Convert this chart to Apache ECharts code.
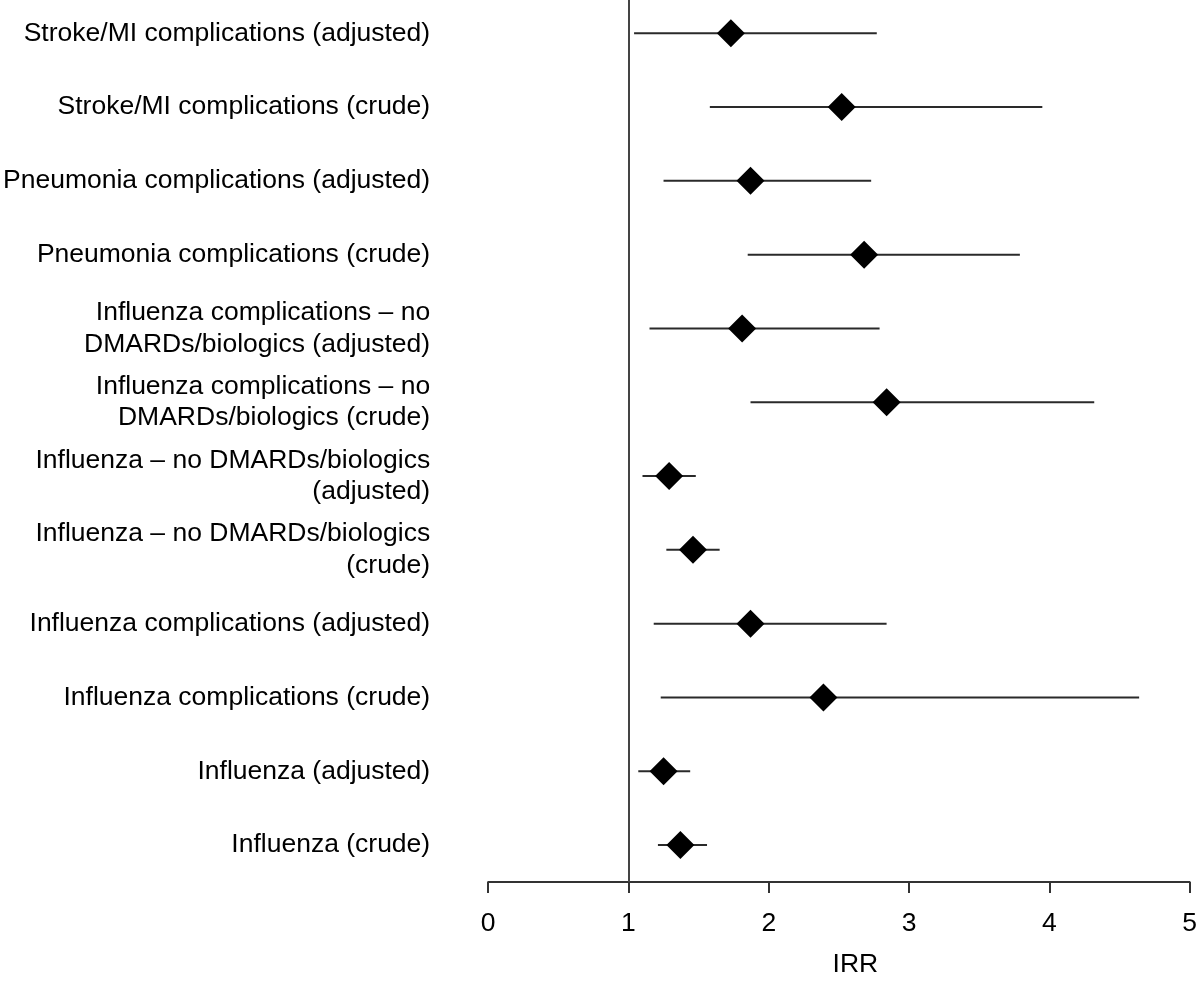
<!DOCTYPE html>
<html>
<head>
<meta charset="utf-8">
<script src="https://cdn.jsdelivr.net/npm/echarts@6/dist/echarts.min.js"></script>
<style>
html,body{margin:0;padding:0;background:#fff;}
#chart{width:1200px;height:983px;}
</style>
</head>
<body>
<div id="chart"></div>
<script>
// Categories, top to bottom
const categories = [
  "Stroke/MI complications (adjusted)",
  "Stroke/MI complications (crude)",
  "Pneumonia complications (adjusted)",
  "Pneumonia complications (crude)",
  "Influenza complications – no\nDMARDs/biologics (adjusted)",
  "Influenza complications – no\nDMARDs/biologics (crude)",
  "Influenza – no DMARDs/biologics\n(adjusted)",
  "Influenza – no DMARDs/biologics\n(crude)",
  "Influenza complications (adjusted)",
  "Influenza complications (crude)",
  "Influenza (adjusted)",
  "Influenza (crude)"
];
// Incidence rate ratio point estimates
const irr   = [1.73, 2.52, 1.87, 2.68, 1.81, 2.84, 1.29, 1.46, 1.87, 2.39, 1.25, 1.37];
// Lower and upper confidence limits
const lower = [1.04, 1.58, 1.25, 1.85, 1.15, 1.87, 1.10, 1.27, 1.18, 1.23, 1.07, 1.21];
const upper = [2.77, 3.95, 2.73, 3.79, 2.79, 4.32, 1.48, 1.65, 2.84, 4.64, 1.44, 1.56];
// X axis
const xTicks = [0, 1, 2, 3, 4, 5];
const xTitle = "IRR";
const refValue = 1;

const FONT = '"Liberation Sans", Arial, Helvetica, sans-serif';
const rowIdx = categories.map((c, i) => i);

const ciData = rowIdx.map(i => [lower[i], upper[i], i]);
const ptData = rowIdx.map(i => [irr[i], i]);

const chart = echarts.init(document.getElementById('chart'), null, {renderer: 'canvas'});
chart.setOption({
  animation: false,
  backgroundColor: '#ffffff',
  grid: {left: 486.5, right: 9.5, top: 0, bottom: 94, containLabel: false},
  xAxis: {
    type: 'value',
    min: xTicks[0],
    max: xTicks[xTicks.length - 1],
    interval: 1,
    name: xTitle,
    nameLocation: 'middle',
    nameGap: 69,
    nameTextStyle: {fontFamily: FONT, fontSize: 26.5, color: '#000', padding: [0, 0, 0, 33]},
    axisLine: {show: true, onZero: false, lineStyle: {color: '#333', width: 2}},
    axisTick: {show: true, length: 11, lineStyle: {color: '#333', width: 2}},
    axisLabel: {fontFamily: FONT, fontSize: 26.5, color: '#000', margin: 28},
    splitLine: {show: false}
  },
  yAxis: {
    type: 'value',
    inverse: true,
    min: -0.45,
    max: 11.5,
    axisLine: {show: false},
    axisTick: {show: false},
    splitLine: {show: false},
    axisLabel: {
      customValues: rowIdx,
      formatter: function (v) { return categories[Math.round(v)] || ''; },
      fontFamily: FONT, fontSize: 26.5, color: '#000',
      margin: 58, align: 'right', lineHeight: 31.7
    }
  },
  series: [
    {
      type: 'custom',
      data: ciData,
      encode: {x: [0, 1], y: 2},
      z: 2,
      silent: true,
      renderItem: function (params, api) {
        const p1 = api.coord([api.value(0), api.value(2)]);
        const p2 = api.coord([api.value(1), api.value(2)]);
        return {
          type: 'line',
          shape: {x1: p1[0], y1: p1[1], x2: p2[0], y2: p2[1]},
          style: {stroke: '#2a2a2a', lineWidth: 2}
        };
      }
    },
    {
      type: 'scatter',
      data: ptData,
      symbol: 'diamond',
      symbolSize: 28,
      z: 3,
      itemStyle: {color: '#000', opacity: 1},
      silent: true,
      markLine: {
        silent: true,
        symbol: ['none', 'none'],
        label: {show: false},
        lineStyle: {color: '#444', width: 2, type: 'solid'},
        data: [{xAxis: refValue}]
      }
    }
  ]
});
</script>
</body>
</html>
